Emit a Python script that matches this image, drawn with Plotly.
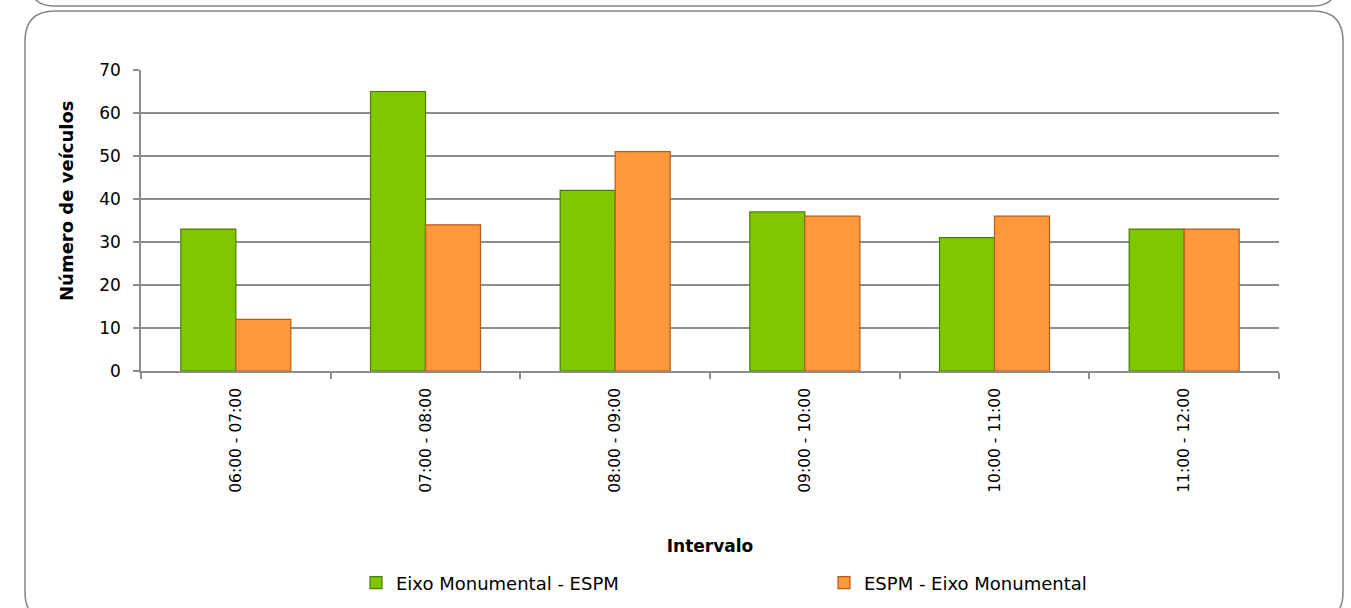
import plotly.graph_objects as go

categories = ["06:00 - 07:00", "07:00 - 08:00", "08:00 - 09:00",
              "09:00 - 10:00", "10:00 - 11:00", "11:00 - 12:00"]
eixo_espm = [33, 65, 42, 37, 31, 33]
espm_eixo = [12, 34, 51, 36, 36, 33]
series_names = ["Eixo Monumental - ESPM", "ESPM - Eixo Monumental"]
y_ticks = [0, 10, 20, 30, 40, 50, 60, 70]

W, H = 1351, 608
L, R, T, B = 141, 1279, 70, 371
FONT = "DejaVu Sans"


def px(x):
    return (x - L) / (R - L)


def py(y):
    return (B - y) / (B - T)


def rounded_rect(x0, y0, x1, y1, r):
    pts = [
        f"M {px(x0 + r)},{py(y0)}",
        f"L {px(x1 - r)},{py(y0)}",
        f"Q {px(x1)},{py(y0)} {px(x1)},{py(y0 + r)}",
        f"L {px(x1)},{py(y1 - r)}",
        f"Q {px(x1)},{py(y1)} {px(x1 - r)},{py(y1)}",
        f"L {px(x0 + r)},{py(y1)}",
        f"Q {px(x0)},{py(y1)} {px(x0)},{py(y1 - r)}",
        f"L {px(x0)},{py(y0 + r)}",
        f"Q {px(x0)},{py(y0)} {px(x0 + r)},{py(y0)}",
        "Z",
    ]
    return " ".join(pts)


fig = go.Figure()
fig.add_trace(go.Bar(
    x=categories, y=eixo_espm, name=series_names[0],
    marker=dict(color="#7FC700", line=dict(color="#4C7F00", width=1.2)),
    legend="legend", showlegend=True,
))
fig.add_trace(go.Bar(
    x=categories, y=espm_eixo, name=series_names[1],
    marker=dict(color="#FF983A", line=dict(color="#B85A18", width=1.2)),
    legend="legend2", showlegend=True,
))

shapes = [
    dict(type="path", xref="paper", yref="paper",
         path=rounded_rect(25, 11, 1343, 622, 30),
         line=dict(color="#858585", width=1.5), layer="above"),
    dict(type="path", xref="paper", yref="paper",
         path=rounded_rect(30, -60, 1337, 6, 24),
         line=dict(color="#858585", width=1.5), layer="above"),
]

annotations = [
    dict(text="<b>Número de veículos</b>", xref="paper", yref="paper",
         x=px(66), y=py(201), xanchor="center", yanchor="middle",
         textangle=-90, showarrow=False, font=dict(size=18, family=FONT)),
]

LEG_Y = 1 - 583 / H

fig.update_layout(
    width=W, height=H,
    margin=dict(l=L, r=W - R, t=T, b=H - B, autoexpand=False),
    paper_bgcolor="white", plot_bgcolor="white",
    barmode="group", bargap=0.42, bargroupgap=0,
    font=dict(family=FONT, color="black"),
    shapes=shapes,
    annotations=annotations,
    showlegend=True,
    legend=dict(orientation="h", x=px(356), y=LEG_Y, yref="container",
                xanchor="left", yanchor="middle",
                font=dict(size=18, family=FONT), bgcolor="rgba(0,0,0,0)"),
    legend2=dict(orientation="h", x=px(824), y=LEG_Y, yref="container",
                 xanchor="left", yanchor="middle",
                 font=dict(size=18, family=FONT), bgcolor="rgba(0,0,0,0)"),
    xaxis=dict(
        type="category", tickangle=-90, tickson="boundaries", automargin=False,
        ticks="outside", ticklen=6, tickcolor="#8C8C8C", tickwidth=1.5,
        showline=True, linecolor="#8C8C8C", linewidth=1.5,
        tickfont=dict(size=15.5, family=FONT), ticklabelstandoff=9,
        title=dict(text="<b>Intervalo</b>", font=dict(size=17, family=FONT), standoff=48),
        showgrid=False,
    ),
    yaxis=dict(
        range=[0, 70], tickvals=y_ticks, ticks="outside", ticklen=6, automargin=False,
        tickcolor="#8C8C8C", tickwidth=1.5,
        showline=True, linecolor="#8C8C8C", linewidth=1.5,
        showgrid=True, gridcolor="#8C8C8C", gridwidth=1.5,
        zeroline=False, ticklabelstandoff=9,
        tickfont=dict(size=17, family=FONT),
    ),
)

fig.write_html("out.html", config={"displayModeBar": False},
               post_script="document.body.style.margin='0';document.body.style.overflow='hidden';")
